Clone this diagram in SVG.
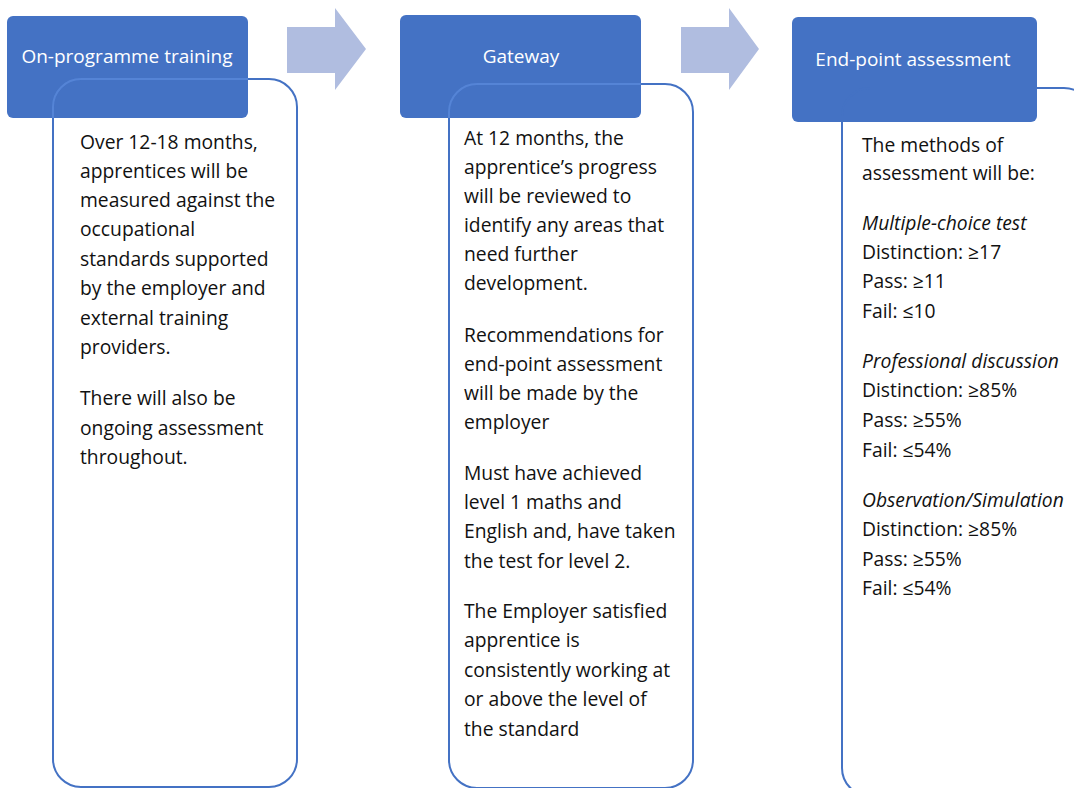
<svg xmlns="http://www.w3.org/2000/svg" width="1074" height="788" viewBox="0 0 1074 788">
<style>
.hdr{fill:#4472C4}
.ht{font-family:"Open Sans","Liberation Sans",Arial,sans-serif;font-size:19px;fill:#fff;text-anchor:middle}
.box{fill:none;stroke:#4472C4;stroke-width:2}
.ov{fill:none;stroke:#5584D6;stroke-width:2}
.bt{font-family:"Open Sans","Liberation Sans",Arial,sans-serif;font-size:19.3px;fill:#111}
.it{font-style:italic}
.arr{fill:#B0BDE0}
</style>
<rect width="1074" height="788" fill="#fff"/>
<g id="connectors">
<polygon class="arr" points="287,27 335,27 335,8 366,49 335,90 335,73 287,73"/>
<polygon class="arr" points="681,27 729,27 729,8 759,49 729,90 729,73 681,73"/>
</g>
<g id="stage1">
<rect class="hdr" x="7" y="16" width="241" height="102" rx="6"/>
<text class="ht" x="127" y="63">On-programme training</text>
<rect class="box" x="53" y="79" width="244" height="708" rx="28"/>
<path class="ov" d="M53,118 V107 A28,28 0 0 1 81,79 H248"/>
<text class="bt"><tspan x="80" y="149">Over 12-18 months,</tspan><tspan x="80" y="178">apprentices will be</tspan><tspan x="80" y="207">measured against the</tspan><tspan x="80" y="236">occupational</tspan><tspan x="80" y="266">standards supported</tspan><tspan x="80" y="295">by the employer and</tspan><tspan x="80" y="325">external training</tspan><tspan x="80" y="354">providers.</tspan><tspan x="80" y="405">There will also be</tspan><tspan x="80" y="435">ongoing assessment</tspan><tspan x="80" y="464">throughout.</tspan></text>
</g>
<g id="stage2">
<rect class="hdr" x="400" y="15" width="241" height="103" rx="6"/>
<text class="ht" x="521" y="63">Gateway</text>
<rect class="box" x="449" y="84" width="244" height="704" rx="28"/>
<path class="ov" d="M449,118 V112 A28,28 0 0 1 477,84 H641"/>
<text class="bt"><tspan x="464" y="145">At 12 months, the</tspan><tspan x="464" y="174">apprentice’s progress</tspan><tspan x="464" y="203">will be reviewed to</tspan><tspan x="464" y="232">identify any areas that</tspan><tspan x="464" y="261">need further</tspan><tspan x="464" y="290">development.</tspan><tspan x="464" y="342">Recommendations for</tspan><tspan x="464" y="371">end-point assessment</tspan><tspan x="464" y="400">will be made by the</tspan><tspan x="464" y="429">employer</tspan><tspan x="464" y="480">Must have achieved</tspan><tspan x="464" y="509">level 1 maths and</tspan><tspan x="464" y="538">English and, have taken</tspan><tspan x="464" y="568">the test for level 2.</tspan><tspan x="464" y="618">The Employer satisfied</tspan><tspan x="464" y="647">apprentice is</tspan><tspan x="464" y="677">consistently working at</tspan><tspan x="464" y="706">or above the level of</tspan><tspan x="464" y="736">the standard</tspan></text>
</g>
<g id="stage3">
<rect class="hdr" x="792" y="17" width="245" height="105" rx="6"/>
<text class="ht" x="913" y="66">End-point assessment</text>
<rect class="box" x="842" y="88" width="250" height="708" rx="28"/>
<text class="bt"><tspan x="862" y="152">The methods of</tspan><tspan x="862" y="180">assessment will be:</tspan><tspan class="it" x="862" y="230">Multiple-choice test</tspan><tspan x="862" y="259">Distinction: ≥17</tspan><tspan x="862" y="288">Pass: ≥11</tspan><tspan x="862" y="318">Fail: ≤10</tspan><tspan class="it" x="862" y="368">Professional discussion</tspan><tspan x="862" y="397">Distinction: ≥85%</tspan><tspan x="862" y="427">Pass: ≥55%</tspan><tspan x="862" y="457">Fail: ≤54%</tspan><tspan class="it" x="862" y="507">Observation/Simulation</tspan><tspan x="862" y="536">Distinction: ≥85%</tspan><tspan x="862" y="566">Pass: ≥55%</tspan><tspan x="862" y="595">Fail: ≤54%</tspan></text>
</g>
</svg>
